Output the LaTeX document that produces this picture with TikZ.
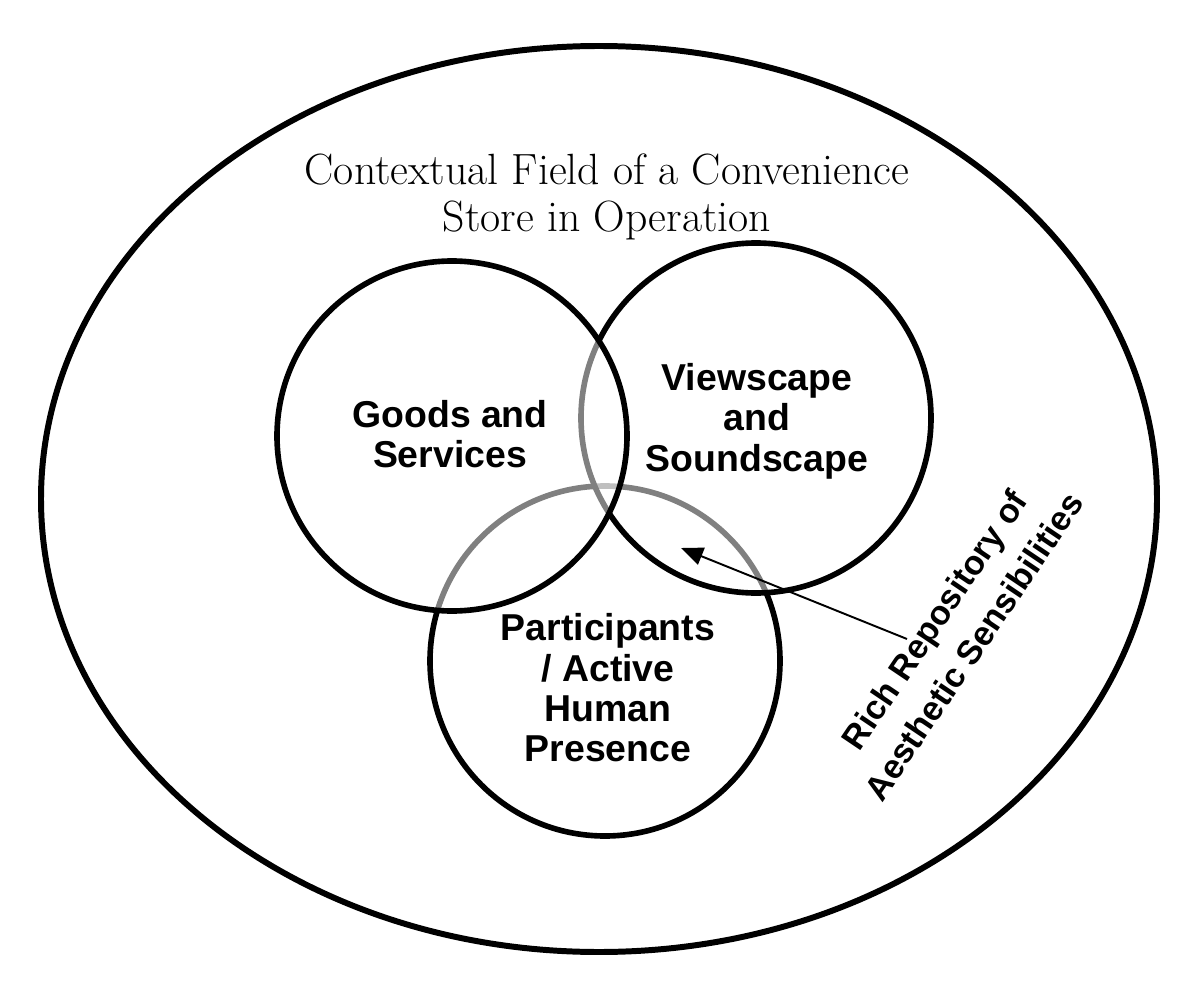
\documentclass[tikz,border=0pt]{standalone}
\usepackage{fontspec}
\setsansfont{Liberation Sans}
\usetikzlibrary{arrows.meta}

\begin{document}
\begin{tikzpicture}[x=0.02cm,y=-0.02cm,
	ring/.style={line width=3.2pt,fill=white,fill opacity=.5},
	lbl/.style={font=\sffamily\bfseries\fontsize{21.3}{23}\selectfont,align=center}]
%
	\useasboundingbox (0,0) rectangle (1200,1000);
	\draw[line width=3.4pt] (599,499) ellipse (558 and 453);
	\draw[ring] (605,661) circle (175);
	\draw[ring] (756,418) circle (175);
	\draw[ring] (452,436) circle (175);
%
	\node[align=center,font=\fontsize{24.9}{26.7}\selectfont\addfontfeatures{FakeBold=0.8}] (field) at (607,197) {Contextual Field of a Convenience\\Store in Operation};
	\node[lbl] (goods) at (450,434) {Goods and\\Services};
	\node[lbl] (view) at (757,421) {Viewscape\\and\\Soundscape};
	\node[lbl] (people) at (608,688) {Participants\\/ Active\\Human\\Presence};
	\node[lbl,font=\sffamily\bfseries\fontsize{19.4}{27}\selectfont,rotate=56] (rich) at (954,633) {Rich Repository of\\Aesthetic Sensibilities};
%
	\coordinate (tail) at (907,639);
	\coordinate (tip) at (681,548);
	\draw[-{Triangle[length=4.4mm,width=3.6mm]},line width=1.1pt] (tail) -- (tip);
\end{tikzpicture}
\end{document}
